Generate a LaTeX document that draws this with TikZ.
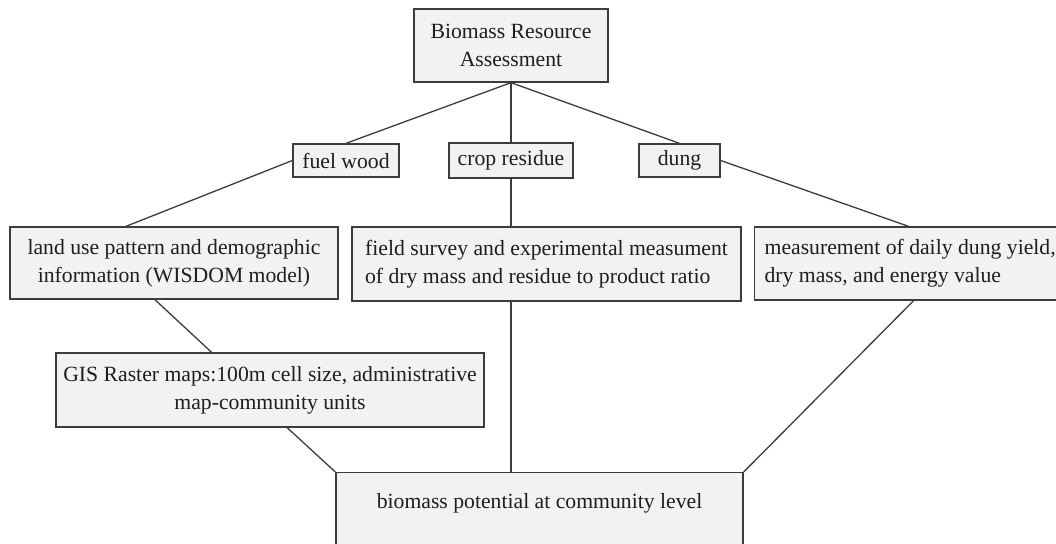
\documentclass[tikz,border=0pt]{standalone}
\usepackage{fontspec}
\setmainfont{Liberation Serif}
\usetikzlibrary{calc}
\definecolor{boxfill}{HTML}{F2F2F2}
\definecolor{edge}{HTML}{3C3C3C}
\definecolor{ink}{HTML}{1E1E1E}
\begin{document}
\begin{tikzpicture}[x=1pt,y=-1pt,
  box/.style={draw=edge, line width=1.3pt, fill=boxfill, inner sep=0pt, text=ink, font=\fontsize{21.7}{28}\selectfont},
  link/.style={draw=edge, line width=1.3pt}]
\useasboundingbox (0,0) rectangle (1056,543);
\clip (0,0) rectangle (1056,543);
\node[box, minimum width=194, minimum height=73, align=center] (top) at (511,45.5) {Biomass Resource\\Assessment};
\node[box, minimum width=106, minimum height=33] (fuel) at (346,160.5) {fuel wood};
\node[box, minimum width=124, minimum height=35] (crop) at (511,160.5) {crop residue};
\node[box, minimum width=81, minimum height=33] (dung) at (679.5,160.5) {dung};
\node[box, minimum width=328, minimum height=72, align=center] (land) at (174,263) {land use pattern and demographic\\information (WISDOM model)};
\node[box, minimum width=389, minimum height=74, align=left] (field) at (546.5,264) {field survey and experimental measument\\of dry mass and residue to product ratio};
\node[box, minimum width=311, minimum height=73, align=left, anchor=west] (meas) at (754,263.5) {measurement of daily dung yield,\\dry mass, and energy value};
\node[box, minimum width=428, minimum height=74, align=center] (gis) at (270,390) {GIS Raster maps:100m cell size, administrative\\map-community units};
\node[box, minimum width=407, minimum height=100, anchor=north] (bio) at (539.5,472) {};
\node[text=ink, inner sep=0pt, font=\fontsize{21.7}{28}\selectfont] (biotext) at ($(bio.north)+(0,31)$) {biomass potential at community level};
\draw[link] (top.south) -- (fuel.north);
\draw[link] (top.south) -- (crop.north);
\draw[link] (top.south) -- (dung.north);
\draw[link] (fuel.west) -- ($(land.north west)!0.354!(land.north east)$);
\draw[link] (crop.south) -- (crop.south |- field.north);
\draw[link] (dung.east) -- ($(meas.north west)!0.495!(meas.north east)$);
\draw[link] ($(land.south west)!0.442!(land.south east)$) -- ($(gis.north west)!0.364!(gis.north east)$);
\draw[link] ($(gis.south west)!0.54!(gis.south east)$) -- (bio.north west);
\draw[link] (crop.south |- field.south) -- (crop.south |- bio.north);
\draw[link] ($(meas.south west)!0.511!(meas.south east)$) -- (bio.north east);
\end{tikzpicture}
\end{document}
